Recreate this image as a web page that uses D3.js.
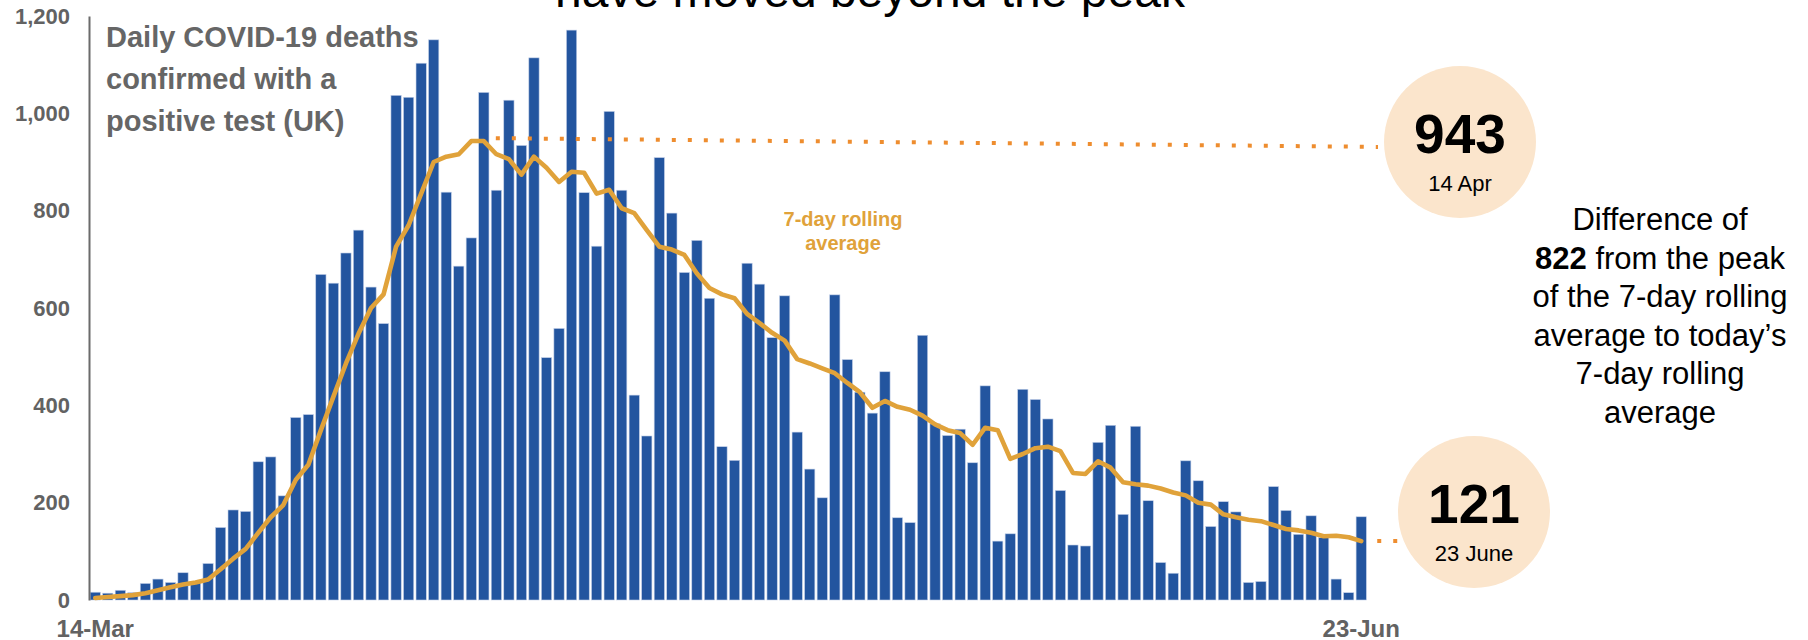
<!DOCTYPE html>
<html>
<head>
<meta charset="utf-8">
<script src="https://cdn.jsdelivr.net/npm/d3@7"></script>
<style>
  html, body { margin: 0; padding: 0; background: #ffffff; }
  svg { display: block; font-family: "Liberation Sans", Arial, sans-serif; }
</style>
</head>
<body>
<svg id="chart" width="1808" height="640"></svg>
<script>
// ---------- data ----------
const startDate = "2020-03-14";
const dayCount = 102;
const xTickLabels = ["14-Mar", "23-Jun"];
const yTicks = [0, 200, 400, 600, 800, 1000, 1200];

const dailyDeaths = [
  16, 14, 20, 15, 34, 43, 36, 56, 36, 75, 149, 185, 182, 284, 294, 214, 375, 381,
  669, 651, 713, 760, 643, 568, 1037, 1033, 1103, 1151, 838, 686, 744, 1043, 842, 1027, 934, 1114,
  498, 558, 1171, 837, 727, 1004, 842, 421, 337, 909, 795, 673, 739, 620, 315, 287, 692,
  649, 539, 625, 345, 269, 210, 627, 494, 427, 384, 469, 169, 159, 544, 362, 338, 351, 282,
  440, 121, 136, 433, 412, 372, 225, 113, 111, 324, 359, 176, 357, 204, 77, 55, 286,
  245, 151, 202, 181, 36, 38, 233, 184, 135, 173, 128, 43, 15, 171
];

const rollingAverage = [
  4, 6, 8, 10, 14, 20, 26, 32, 36, 42, 63, 85, 105, 138, 170, 195, 247, 278,
  349, 418, 486, 547, 600, 628, 726, 770, 835, 900, 911, 916, 943, 943, 916, 906, 874, 911,
  888, 859, 880, 878, 835, 843, 805, 795, 760, 726, 720, 709, 671, 641, 628, 620, 588,
  569, 549, 533, 495, 486, 476, 466, 446, 427, 395, 409, 397, 391, 379, 361, 349, 343, 319,
  354, 349, 290, 300, 312, 315, 306, 261, 259, 285, 272, 242, 238, 235, 229, 221, 215,
  200, 196, 176, 170, 165, 162, 154, 146, 143, 138, 131, 132, 129, 121
];

const peakValue = 943, peakLabel = "14 Apr", peakIndex = 31;
const todayValue = 121, todayLabel = "23 June";
const differenceValue = 822;

// ---------- layout ----------
const svg = d3.select("#chart");
const days = d3.timeDay.range(new Date(startDate + "T00:00:00"), d3.timeDay.offset(new Date(startDate + "T00:00:00"), dayCount));

const x = d3.scaleBand().domain(days).range([89, 1367.5]).paddingInner(0.18).paddingOuter(0.09);
const y = d3.scaleLinear().domain([0, 1200]).range([600, 16]);

const barColor = "#23559f";
const lineColor = "#e0a23a";
const dotColor = "#ee8d2f";
const circleColor = "#fbe5cc";
const grey = "#626262";

// clipped top title
svg.append("text")
  .attr("x", 870).attr("y", 7)
  .attr("text-anchor", "middle")
  .attr("font-size", 48).attr("fill", "#000")
  .text("have moved beyond the peak");

// bars
svg.append("g").selectAll("rect")
  .data(dailyDeaths)
  .join("rect")
  .attr("x", (d, i) => x(days[i]))
  .attr("y", d => y(d))
  .attr("width", x.bandwidth())
  .attr("height", d => y(0) - y(d))
  .attr("fill", barColor)
  .attr("stroke", "#c3d0e8").attr("stroke-width", 0.6);

// y axis
const yAxis = d3.axisLeft(y).tickValues(yTicks).tickSize(0).tickPadding(19).tickFormat(d3.format(","));
const gy = svg.append("g").attr("transform", "translate(89,0)").call(yAxis);
gy.select(".domain").attr("stroke", "#6b6b6b").attr("stroke-width", 2);
gy.selectAll("text").attr("font-size", 22).attr("font-weight", "bold").attr("fill", grey)
  .attr("font-family", "Liberation Sans, Arial, sans-serif");

// x axis labels (first and last only)
const xAxis = d3.axisBottom(x).tickSize(0).tickPadding(20)
  .tickValues([days[0], days[days.length - 1]])
  .tickFormat((d, i) => xTickLabels[i]);
const gx = svg.append("g").attr("transform", "translate(0,600)").call(xAxis);
gx.select(".domain").remove();
gx.selectAll("text").attr("font-size", 24).attr("font-weight", "bold").attr("fill", grey)
  .attr("font-family", "Liberation Sans, Arial, sans-serif");

// rolling average line
const line = d3.line()
  .x((d, i) => x(days[i]) + x.bandwidth() / 2)
  .y(d => y(d));
svg.append("path")
  .datum(rollingAverage)
  .attr("d", line)
  .attr("fill", "none")
  .attr("stroke", lineColor)
  .attr("stroke-width", 4.6)
  .attr("stroke-linejoin", "round")
  .attr("stroke-linecap", "round");

// chart label
const titleLines = ["Daily COVID-19 deaths", "confirmed with a", "positive test (UK)"];
svg.append("g").selectAll("text").data(titleLines).join("text")
  .attr("x", 106).attr("y", (d, i) => 47 + i * 42)
  .attr("font-size", 29).attr("font-weight", "bold").attr("fill", "#666666")
  .text(d => d);

// rolling average label
svg.append("g").selectAll("text").data(["7-day rolling", "average"]).join("text")
  .attr("x", 843).attr("y", (d, i) => 226 + i * 24)
  .attr("text-anchor", "middle")
  .attr("font-size", 20).attr("font-weight", "bold").attr("fill", lineColor)
  .text(d => d);

// bubbles
const peakCircle = { cx: 1460, cy: 142, r: 76 };
const todayCircle = { cx: 1474, cy: 512, r: 76 };

const lastX = x(days[days.length - 1]) + x.bandwidth() / 2;
const peakX = x(days[peakIndex]) + x.bandwidth() / 2;

// dotted guides
svg.append("line")
  .attr("x1", peakX + 12).attr("y1", y(peakValue + 6))
  .attr("x2", peakCircle.cx - peakCircle.r - 6).attr("y2", y(peakValue - 12))
  .attr("stroke", dotColor).attr("stroke-width", 4).attr("stroke-dasharray", "4 12");
svg.append("line")
  .attr("x1", lastX + 16).attr("y1", y(todayValue))
  .attr("x2", todayCircle.cx).attr("y2", y(todayValue))
  .attr("stroke", dotColor).attr("stroke-width", 4).attr("stroke-dasharray", "4 12");

[[peakCircle, peakValue, peakLabel], [todayCircle, todayValue, todayLabel]].forEach(([c, v, lab]) => {
  svg.append("circle").attr("cx", c.cx).attr("cy", c.cy).attr("r", c.r).attr("fill", circleColor);
  svg.append("text").attr("x", c.cx).attr("y", c.cy + 11)
    .attr("text-anchor", "middle").attr("font-size", 55).attr("font-weight", "bold").attr("fill", "#000")
    .text(d3.format(",")(v));
  svg.append("text").attr("x", c.cx).attr("y", c.cy + 49)
    .attr("text-anchor", "middle").attr("font-size", 22).attr("fill", "#000")
    .text(lab);
});

// difference text
const diffLines = [
  [["Difference of", false]],
  [[String(differenceValue), true], [" from the peak", false]],
  [["of the 7-day rolling", false]],
  [["average to today\u2019s", false]],
  [["7-day rolling", false]],
  [["average", false]]
];
diffLines.forEach((parts, i) => {
  const t = svg.append("text").attr("x", 1660).attr("y", 230 + i * 38.5)
    .attr("text-anchor", "middle").attr("font-size", 31).attr("fill", "#000");
  parts.forEach(([s, b]) => t.append("tspan").attr("font-weight", b ? "bold" : "normal").text(s));
});
</script>
</body>
</html>
